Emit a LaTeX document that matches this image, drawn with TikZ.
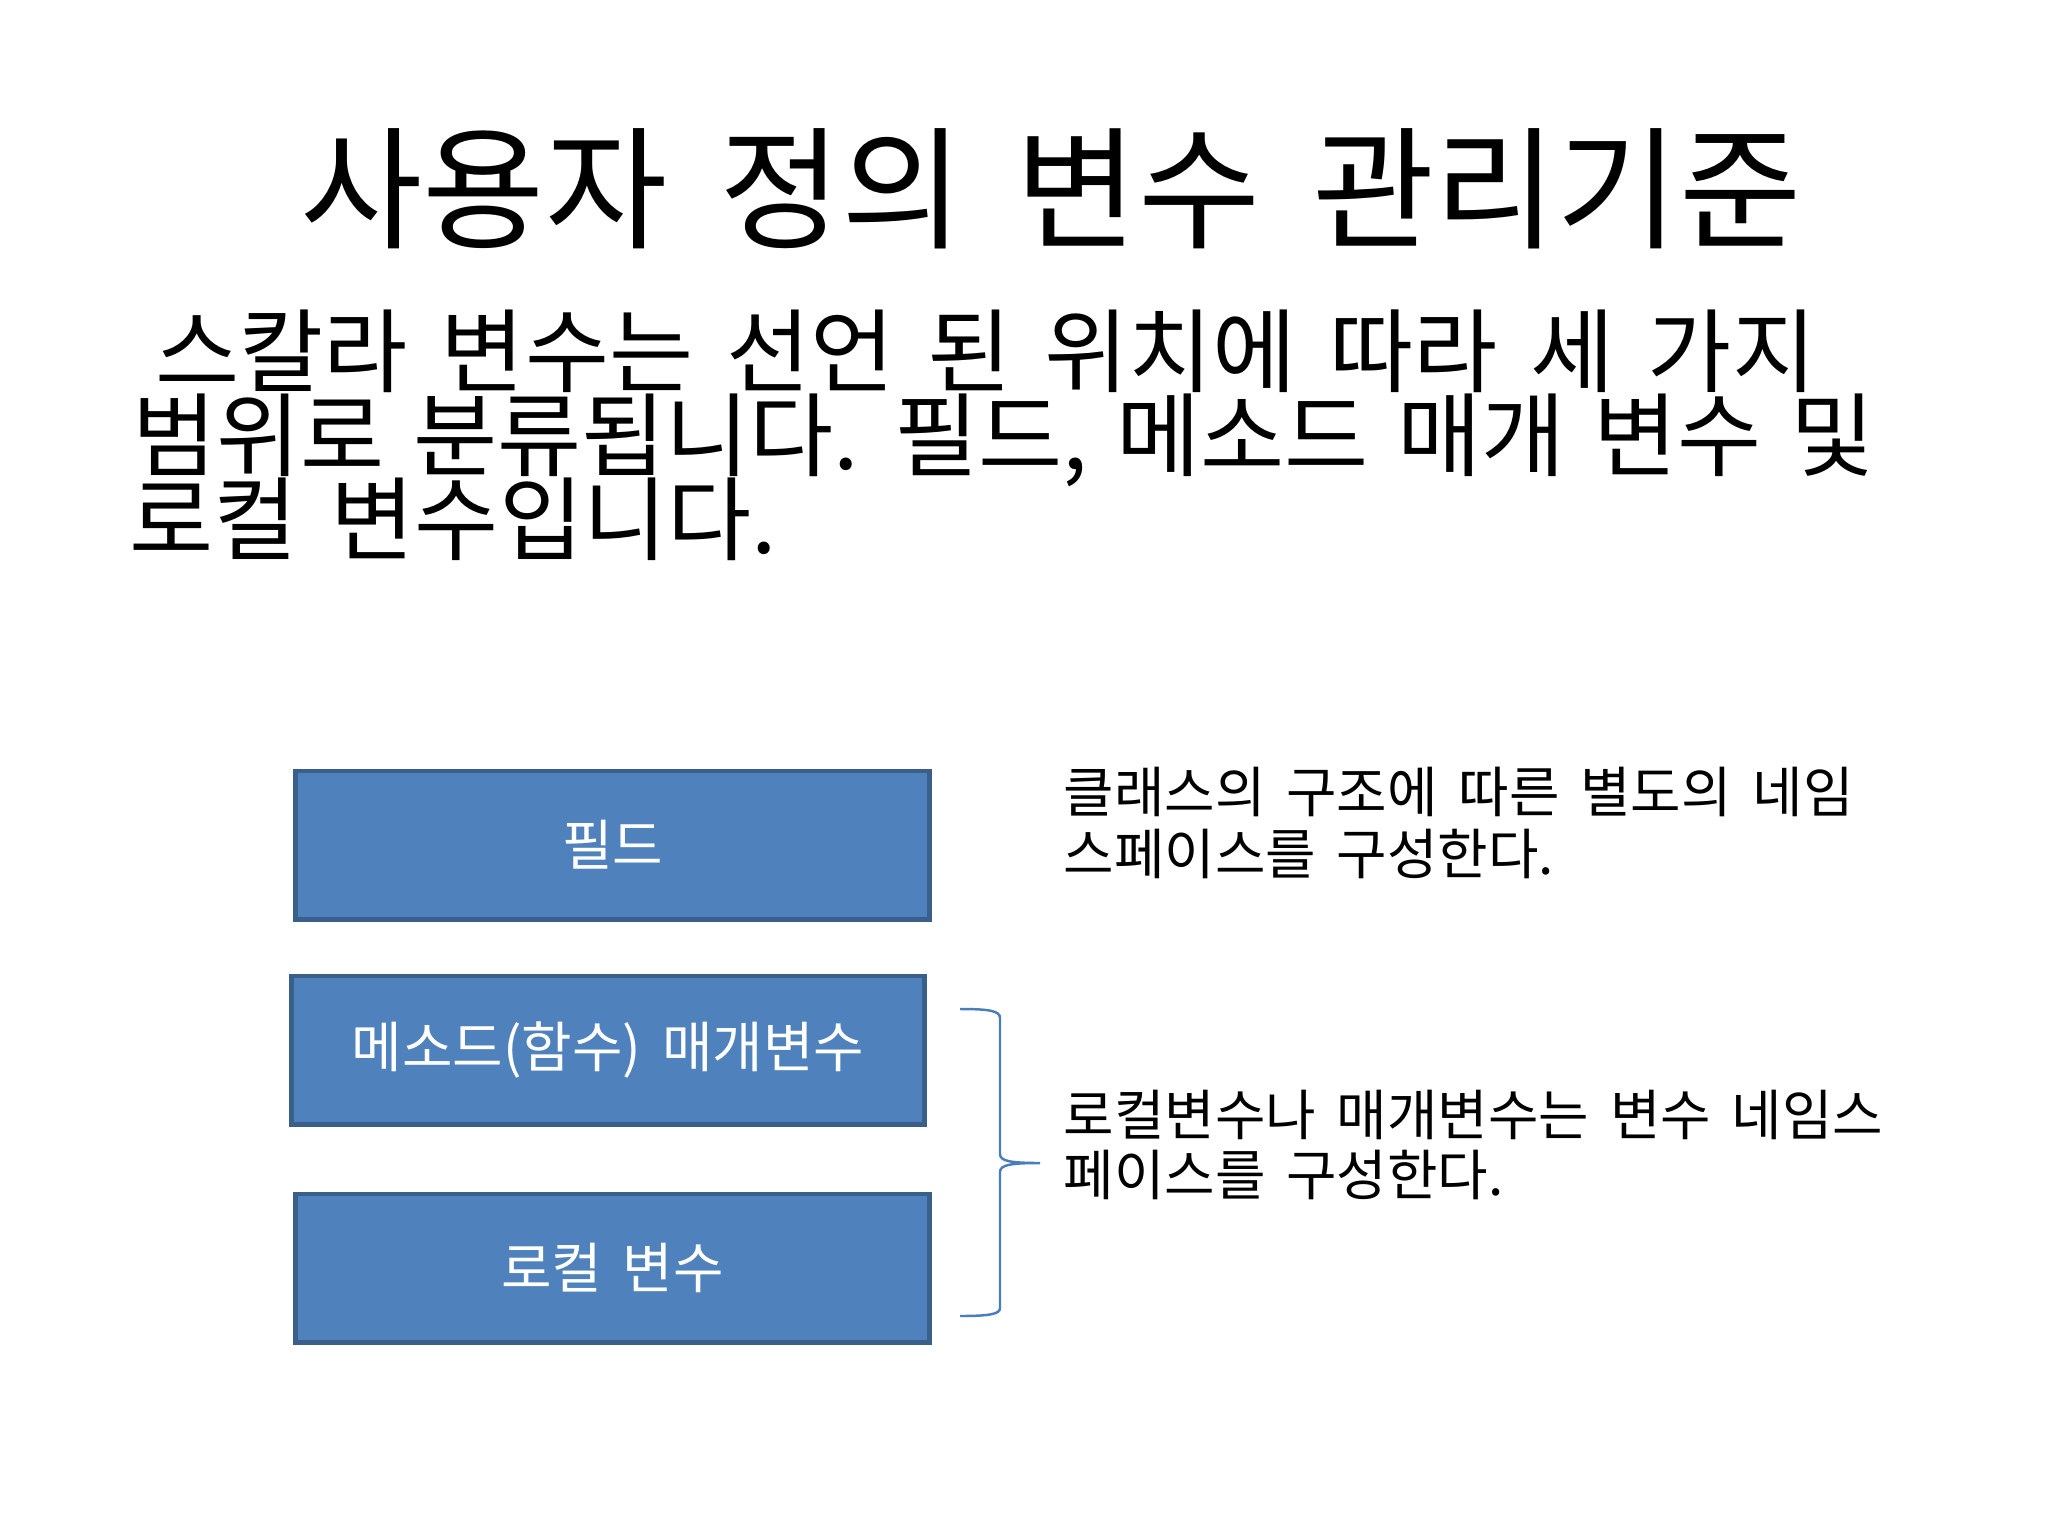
\documentclass[tikz,border=0pt]{standalone}
\usepackage{fontspec}
\setmainfont{Noto Sans CJK KR}
\definecolor{boxfill}{HTML}{4F81BD}
\definecolor{boxline}{HTML}{3A5F8B}
\definecolor{bracecol}{HTML}{4A7EBB}
\newcommand\myTitleFont{\fontsize{37.8pt}{40pt}\selectfont\spaceskip=0.39em\relax}
\newcommand\myBodyFont{\fontsize{26pt}{28pt}\selectfont\spaceskip=0.36em\relax}
\newcommand\mySideFont{\fontsize{15.6pt}{17pt}\selectfont\spaceskip=0.38em\relax}
\begin{document}
\begin{tikzpicture}[x=0.01cm,y=-0.01cm,
  titletext/.style={anchor=base west,inner sep=0pt,font=\myTitleFont},
  bodytext/.style={anchor=base west,inner sep=0pt,font=\myBodyFont},
  sidetext/.style={anchor=base west,inner sep=0pt,font=\mySideFont},
  bluebox/.style={draw=boxline,fill=boxfill,line width=1.4pt,minimum width=6.33cm,minimum height=1.48cm,inner sep=0pt,text=white,font=\mySideFont},
  bracestyle/.style={draw=bracecol,line width=0.7pt}]
\useasboundingbox[fill=white] (0,0) rectangle (2048,1536);
\node[titletext] (title) at (300,238) {사용자 정의 변수 관리기준};
\node[bodytext] (b1) at (155,385) {스칼라 변수는 선언 된 위치에 따라 세 가지};
\node[bodytext] (b2) at (132,469) {\spaceskip=0.31em\relax 범위로 분류됩니다. 필드, 메소드 매개 변수 및};
\node[bodytext] (b3) at (129,553) {로컬 변수입니다.};
\node[bluebox] (field) at (612.5,845) {필드};
\node[bluebox] (param) at (608,1050) {메소드(함수) 매개변수};
\node[bluebox] (local) at (612.5,1268) {로컬 변수};
\node[sidetext] (s1a) at (1063,812) {클래스의 구조에 따른 별도의 네임};
\node[sidetext] (s1b) at (1063,874) {스페이스를 구성한다.};
\node[sidetext] (s2a) at (1063,1135) {로컬변수나 매개변수는 변수 네임스};
\node[sidetext] (s2b) at (1063,1195) {페이스를 구성한다.};
\coordinate (btop) at (960,1009);
\coordinate (btip) at (1040,1163);
\coordinate (bbot) at (960,1316);
\draw[bracestyle] (btop) .. controls (990,1009) and (1000,1011) .. (1000,1018) -- (1000,1154) .. controls (1000,1161) and (1010,1163) .. (btip)
  (btip) .. controls (1010,1163) and (1000,1165) .. (1000,1172) -- (1000,1308) .. controls (1000,1314) and (990,1316) .. (bbot);
\end{tikzpicture}
\end{document}
